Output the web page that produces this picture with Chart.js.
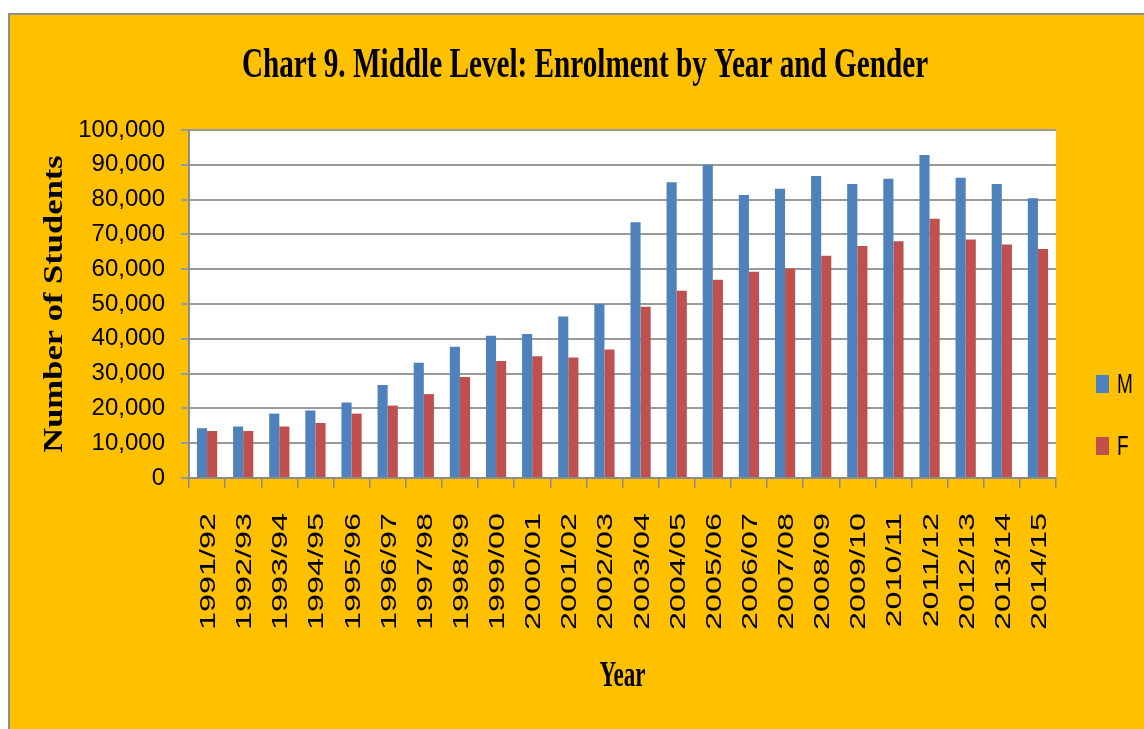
<!DOCTYPE html>
<html>
<head>
<meta charset="utf-8">
<script src="https://cdn.jsdelivr.net/npm/chart.js@4"></script>
<style>
  html, body { margin: 0; padding: 0; background: #fff; overflow: hidden; }
  #frame {
    position: absolute; left: 8px; top: 13px; width: 1200px; height: 760px;
    background: #FFC000; border-left: 2px solid #8c8c8c; border-top: 2px solid #8c8c8c;
  }
  #chart { position: absolute; left: 0; top: 0; }
</style>
</head>
<body>
<div id="frame"></div>
<canvas id="chart" width="1144" height="729"></canvas>
<script>
// enrolment per school year
const years = ['1991/92','1992/93','1993/94','1994/95','1995/96','1996/97','1997/98','1998/99',
  '1999/00','2000/01','2001/02','2002/03','2003/04','2004/05','2005/06','2006/07','2007/08',
  '2008/09','2009/10','2010/11','2011/12','2012/13','2013/14','2014/15'];
const male = [14300,14800,18500,19400,21700,26700,33100,37700,40900,41400,46400,50000,
  73500,85000,90000,81300,83100,86800,84500,86000,92800,86300,84500,80400];
const female = [13500,13500,14800,15800,18500,20800,24100,29000,33600,35000,34600,36900,
  49200,53800,57000,59300,60200,63900,66700,68000,74500,68500,67100,65800];
const seriesNames = ['M','F'];
const seriesColors = ['#4F81BD','#C0504D'];
const titleText = 'Chart 9. Middle Level: Enrolment by Year and Gender';
const yTitle = 'Number of Students';
const xTitle = 'Year';

// draws the texts that need stretching (the original ones are squeezed)
const textPlugin = {
  id: 'texts',
  beforeDraw(chart) {
    const a = chart.chartArea, ctx = chart.ctx;
    ctx.save();
    ctx.fillStyle = '#ffffff';
    ctx.fillRect(a.left, a.top, a.right - a.left, a.bottom - a.top);
    ctx.restore();
  },
  afterDraw(chart) {
    const ctx = chart.ctx;
    const xs = chart.scales.x;
    ctx.save();
    ctx.fillStyle = '#000';

    // title
    ctx.save();
    ctx.font = 'bold 42px "Liberation Serif"';
    ctx.textAlign = 'center';
    ctx.textBaseline = 'alphabetic';
    ctx.translate(585, 77);
    ctx.scale(0.695, 1);
    ctx.fillText(titleText, 0, 0);
    ctx.restore();

    // y axis title
    ctx.save();
    ctx.font = 'bold 27px "Liberation Serif"';
    ctx.textAlign = 'center';
    ctx.textBaseline = 'alphabetic';
    ctx.translate(62, 304);
    ctx.rotate(-Math.PI / 2);
    ctx.scale(1.28, 1);
    ctx.fillText(yTitle, 0, 0);
    ctx.restore();

    // x tick labels
    ctx.font = '22px "Liberation Sans"';
    ctx.textAlign = 'right';
    ctx.textBaseline = 'alphabetic';
    for (let i = 0; i < years.length; i++) {
      const x = xs.getPixelForTick(i);
      ctx.save();
      ctx.translate(x + 8, 513);
      ctx.rotate(-Math.PI / 2);
      ctx.scale(1.47, 1);
      ctx.fillText(years[i], 0, 0);
      ctx.restore();
    }

    // x axis title
    ctx.save();
    ctx.font = 'bold 35px "Liberation Serif"';
    ctx.textAlign = 'center';
    ctx.textBaseline = 'alphabetic';
    ctx.translate((chart.chartArea.left + chart.chartArea.right) / 2, 686);
    ctx.scale(0.66, 1);
    ctx.fillText(xTitle, 0, 0);
    ctx.restore();

    // legend
    const legY = [393, 455];
    chart.data.datasets.forEach((ds, i) => {
      ctx.fillStyle = ds.backgroundColor;
      ctx.fillRect(1096, legY[i] - 18, 13, 18);
      ctx.fillStyle = '#000';
      ctx.save();
      ctx.font = '28px "Liberation Sans"';
      ctx.textAlign = 'left';
      ctx.translate(1117, legY[i]);
      ctx.scale(0.68, 1);
      ctx.fillText(ds.label, 0, 0);
      ctx.restore();
    });
    ctx.restore();
  }
};

const ctx = document.getElementById('chart').getContext('2d');
new Chart(ctx, {
  type: 'bar',
  data: {
    labels: years,
    datasets: [
      { label: seriesNames[0], data: male, backgroundColor: seriesColors[0], borderWidth: 0 },
      { label: seriesNames[1], data: female, backgroundColor: seriesColors[1], borderWidth: 0 }
    ]
  },
  options: {
    responsive: false,
    animation: false,
    layout: { padding: { top: 130, right: 88, left: 0, bottom: 0 } },
    datasets: { bar: { categoryPercentage: 0.56, barPercentage: 1.0 } },
    plugins: {
      legend: { display: false },
      title: { display: false },
      tooltip: { enabled: false }
    },
    scales: {
      x: {
        afterFit: s => { s.height = 729 - 478; },
        grid: { display: true, drawOnChartArea: false, drawTicks: true, tickLength: 10,
                offset: true, color: '#8c8c8c', lineWidth: 1.5 },
        border: { color: '#8c8c8c', width: 2 },
        ticks: { display: false }
      },
      y: {
        min: 0, max: 100000,
        afterFit: s => { s.width = 189; },
        grid: { color: '#999999', lineWidth: 2, drawTicks: true, tickLength: 8 },
        border: { color: '#8c8c8c', width: 2 },
        ticks: {
          stepSize: 10000,
          padding: 16,
          color: '#000',
          font: { family: 'Liberation Sans', size: 24 },
          callback: v => v.toLocaleString('en-US')
        }
      }
    }
  },
  plugins: [textPlugin]
});
</script>
</body>
</html>
